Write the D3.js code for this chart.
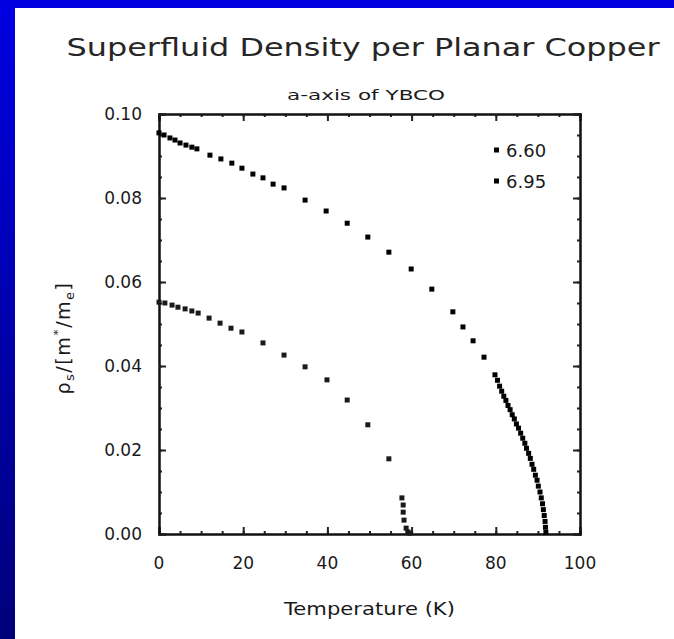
<!DOCTYPE html>
<html><head><meta charset="utf-8">
<script src="https://cdn.jsdelivr.net/npm/d3@7"></script>
<style>
html,body{margin:0;padding:0;background:#fff;}
svg{display:block;}
text{font-family:"DejaVu Sans",sans-serif;fill:#1a1a1a;}
</style></head><body>
<svg id="c" width="674" height="639"></svg>
<script>
// ---- data ----
const title = "Superfluid Density per Planar Copper";
const subtitle = "a-axis of YBCO";
const xLabel = "Temperature (K)";
const seriesNames = ["6.60", "6.95"];
const xTicks = [0, 20, 40, 60, 80, 100];
const yTicks = [0.00, 0.02, 0.04, 0.06, 0.08, 0.10];

// YBCO 6.95 (upper curve)
const t695 = [0,1.2,2.6,3.8,5.0,6.4,7.8,9.0,12.1,14.7,17.3,19.7,22.3,24.7,27.1,29.7,34.7,39.7,44.7,49.6,54.6,59.9,64.8,69.8,72.2,74.6,77.2,79.8,
  80.4,80.9,81.4,81.9,82.4,82.9,83.4,83.9,84.4,84.9,85.4,85.9,86.4,86.9,87.3,87.8,88.2,88.6,89.0,89.4,89.8,90.1,90.5,90.8,91.1,91.3,91.5,91.7,91.8,91.9];
const v695 = [0.0955,0.0950,0.0943,0.0938,0.0931,0.0926,0.0921,0.0917,0.0902,0.0893,0.0883,0.0871,0.0857,0.0848,0.0833,0.0824,0.0795,0.0769,0.0740,0.0707,0.0671,0.0631,0.0583,0.0529,0.0493,0.0460,0.0421,0.0379,
  0.0366,0.0352,0.0340,0.0328,0.0318,0.0306,0.0296,0.0284,0.0274,0.0262,0.0252,0.0240,0.0228,0.0216,0.0204,0.0192,0.0180,0.0166,0.0154,0.0140,0.0128,0.0114,0.0100,0.0086,0.0072,0.0058,0.0044,0.0030,0.0016,0.0004];

// YBCO 6.60 (lower curve)
const t660 = [0,1.4,3.1,4.5,6.2,7.8,9.3,11.9,14.5,17.1,19.7,24.7,29.7,34.7,39.9,44.7,49.6,54.6,57.7,58.0,58.0,58.2,58.7,59.1,59.6];
const v660 = [0.0552,0.0550,0.0545,0.0540,0.0536,0.0531,0.0526,0.0514,0.0502,0.0490,0.0481,0.0455,0.0426,0.0398,0.0367,0.0319,0.0260,0.0179,0.0086,0.0069,0.0052,0.0033,0.0014,0.0005,0.0002];

// ---- drawing ----
const svg = d3.select("#c");
const W = 674, H = 639;

const defs = svg.append("defs");
const g = defs.append("linearGradient").attr("id","bg").attr("x1",0).attr("y1",0).attr("x2",0).attr("y2",1);
g.append("stop").attr("offset","0%").attr("stop-color","#0000e2");
g.append("stop").attr("offset","100%").attr("stop-color","#00007a");
svg.append("rect").attr("width",W).attr("height",H).attr("fill","url(#bg)");
svg.append("rect").attr("x",15).attr("y",8).attr("width",W-15).attr("height",H-8).attr("fill","#fff");

const L = 159, R = 580, T = 114, B = 534;
const x = d3.scaleLinear().domain([0,100]).range([L,R]);
const y = d3.scaleLinear().domain([0,0.10]).range([B,T]);

const minorX = d3.range(0,101,5);
const minorY = d3.range(0,0.1001,0.005);

const ax = svg.append("g");
// bottom
ax.append("g").attr("transform",`translate(0,${B})`).call(d3.axisTop(x).tickValues(minorX).tickSize(3).tickFormat(""));
ax.append("g").attr("transform",`translate(0,${B})`).call(d3.axisTop(x).tickValues(xTicks).tickSize(7).tickFormat(""));
// top
ax.append("g").attr("transform",`translate(0,${T})`).call(d3.axisBottom(x).tickValues(minorX).tickSize(3).tickFormat(""));
ax.append("g").attr("transform",`translate(0,${T})`).call(d3.axisBottom(x).tickValues(xTicks).tickSize(7).tickFormat(""));
// left
ax.append("g").attr("transform",`translate(${L},0)`).call(d3.axisRight(y).tickValues(minorY).tickSize(3).tickFormat(""));
ax.append("g").attr("transform",`translate(${L},0)`).call(d3.axisRight(y).tickValues(yTicks).tickSize(7).tickFormat(""));
// right
ax.append("g").attr("transform",`translate(${R},0)`).call(d3.axisLeft(y).tickValues(minorY).tickSize(3).tickFormat(""));
ax.append("g").attr("transform",`translate(${R},0)`).call(d3.axisLeft(y).tickValues(yTicks).tickSize(7).tickFormat(""));
ax.selectAll(".domain").attr("stroke","#111").attr("stroke-width",2);
ax.selectAll(".tick line").attr("stroke","#222").attr("stroke-width",2);

// tick labels
svg.append("g").selectAll("text").data(yTicks).join("text")
  .attr("x",L-17).attr("y",d=>y(d)+6).attr("text-anchor","end")
  .attr("font-size",17).text(d=>d3.format(".2f")(d));
svg.append("g").selectAll("text").data(xTicks).join("text")
  .attr("x",d=>x(d)).attr("y",B+35).attr("text-anchor","middle")
  .attr("font-size",17).text(d=>d);

// titles
svg.append("text").attr("x",363).attr("y",56).attr("text-anchor","middle")
  .attr("font-size",24).attr("textLength",593).attr("lengthAdjust","spacingAndGlyphs").style("fill","#262626").text(title);
svg.append("text").attr("x",366).attr("y",100).attr("text-anchor","middle")
  .attr("font-size",14).attr("textLength",158).attr("lengthAdjust","spacingAndGlyphs").text(subtitle);
svg.append("text").attr("x",(L+R)/2).attr("y",615).attr("text-anchor","middle")
  .attr("font-size",17).attr("textLength",171).attr("lengthAdjust","spacingAndGlyphs").text(xLabel);

// y label
const yl = svg.append("text").attr("transform",`translate(70,338) rotate(-90)`).attr("text-anchor","middle")
  .attr("font-size",19).attr("letter-spacing",1.5);
yl.append("tspan").text("ρ");
yl.append("tspan").attr("font-size",13).attr("dy",4).text("s");
yl.append("tspan").attr("dy",-4).text("/[m");
yl.append("tspan").attr("font-size",13).attr("dy",-8).text("*");
yl.append("tspan").attr("dy",8).text("/m");
yl.append("tspan").attr("font-size",13).attr("dy",4).text("e");
yl.append("tspan").attr("dy",-4).text("]");

// points
const s = 5;
const d695 = t695.map((t,i)=>({t, v:v695[i]}));
const d660 = t660.map((t,i)=>({t, v:v660[i]}));
svg.append("g").selectAll("rect").data(d695).join("rect")
  .attr("x",d=>x(d.t)-s/2).attr("y",d=>y(d.v)-s/2).attr("width",s).attr("height",s).attr("fill","#000");
svg.append("g").selectAll("rect").data(d660).join("rect")
  .attr("x",d=>x(d.t)-s/2).attr("y",d=>y(d.v)-s/2).attr("width",s).attr("height",s).attr("fill","#1a1a1a");

// legend
const lg = svg.append("g");
seriesNames.forEach((n,i)=>{
  const yy = 150 + i*31;
  lg.append("rect").attr("x",494).attr("y",yy-2.5).attr("width",5).attr("height",5).attr("fill","#000");
  lg.append("text").attr("x",506).attr("y",yy+7).attr("font-size",18).text(n);
});
</script>
</body></html>
